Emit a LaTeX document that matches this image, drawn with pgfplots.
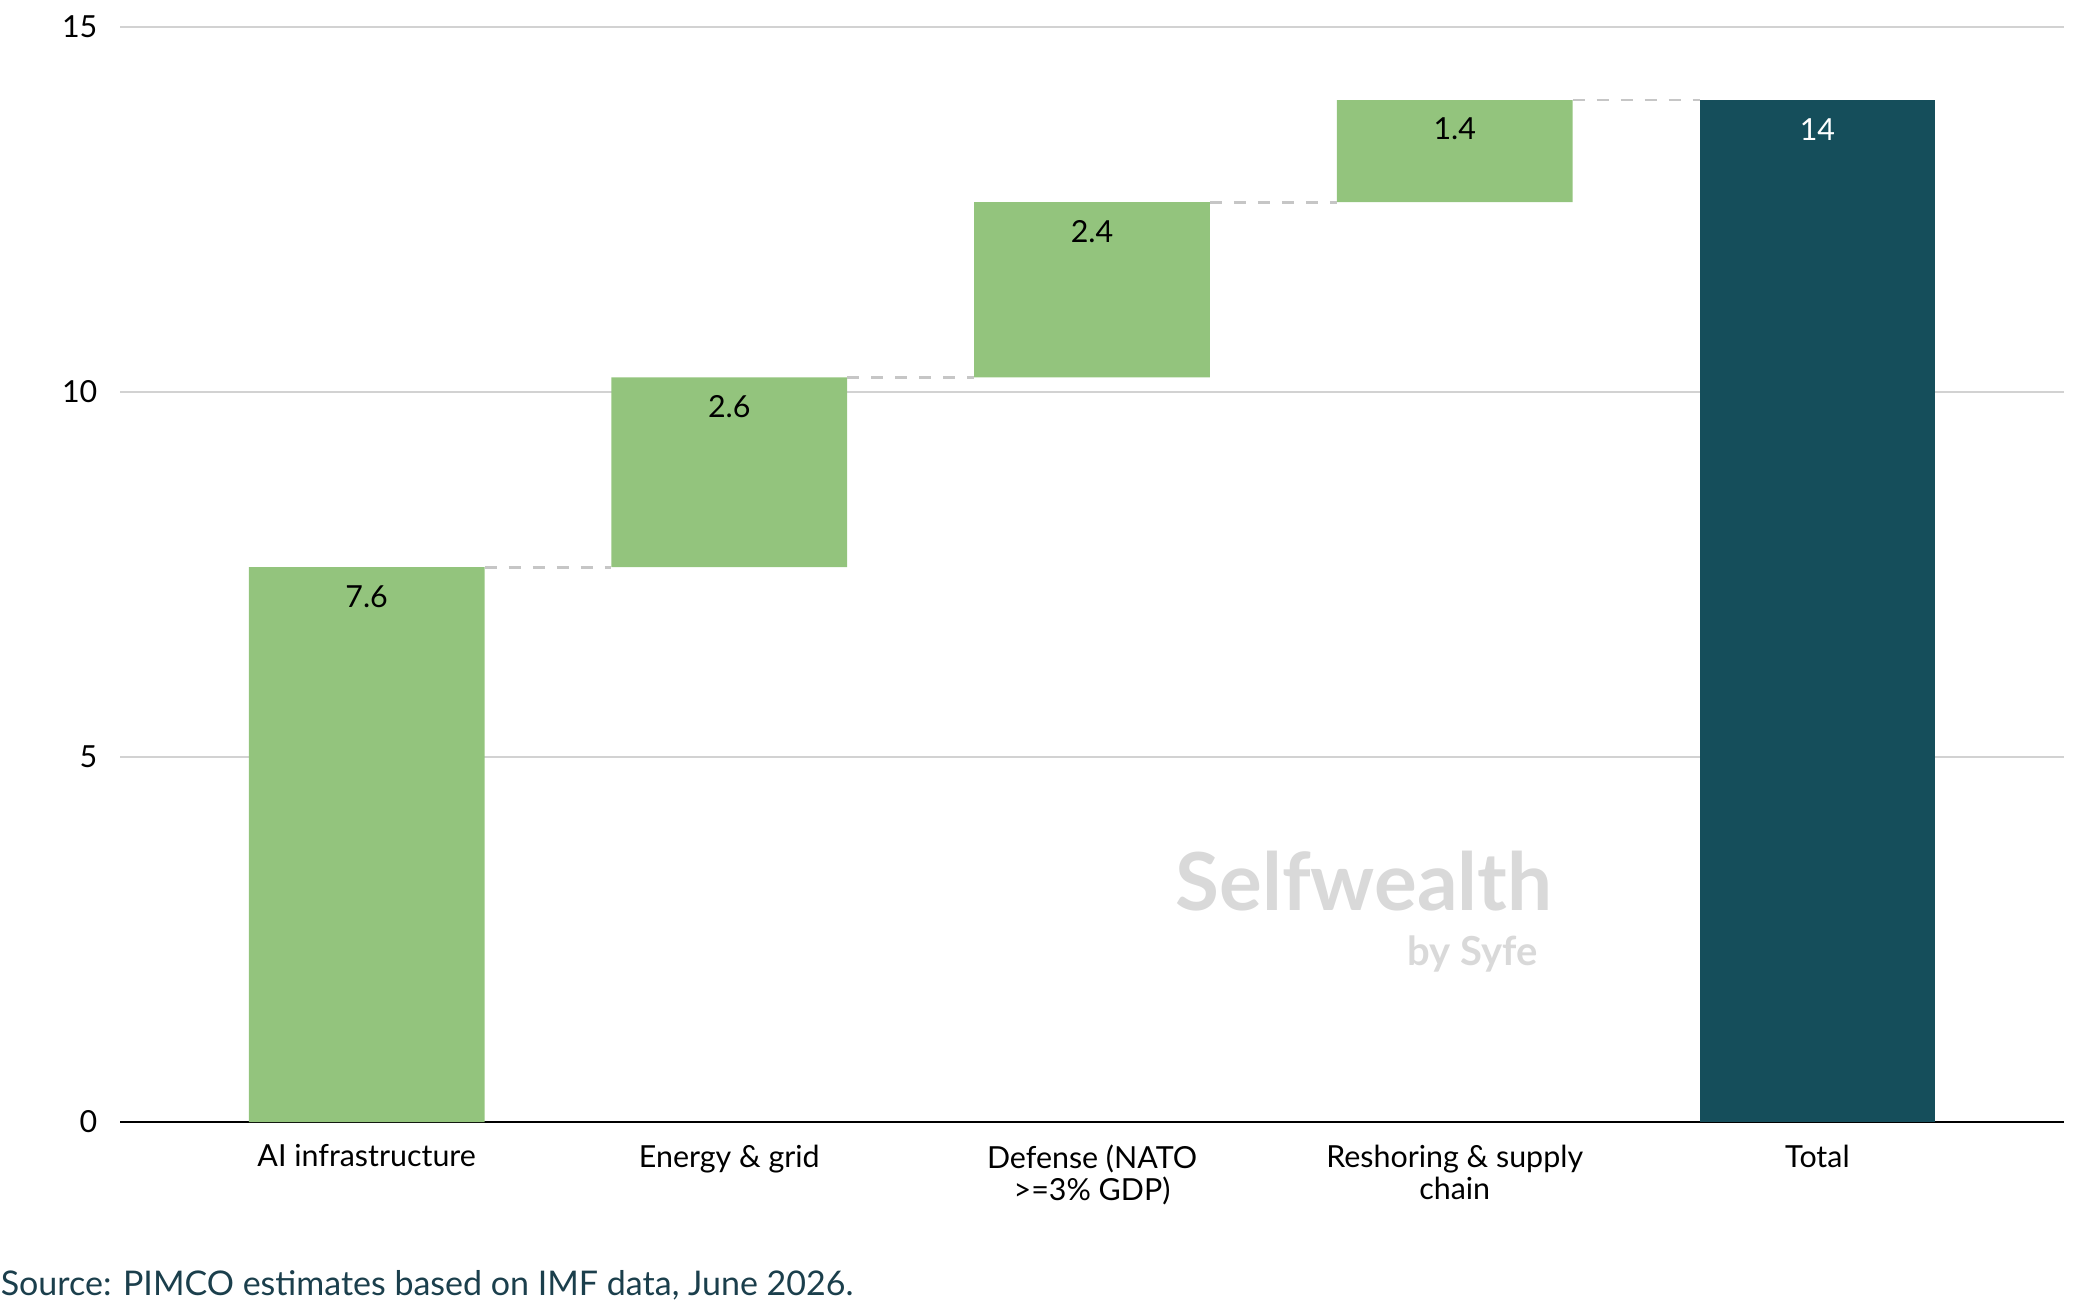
\documentclass[border=0pt]{standalone}
\usepackage{pgfplots}
\pgfplotsset{compat=1.18}
\usepackage{fontspec}
\setmainfont{Lato}
\definecolor{gbar}{HTML}{93C47D}
\definecolor{tbar}{HTML}{154E5B}
\definecolor{src}{HTML}{1B3F4C}
\begin{document}
\begin{tikzpicture}
\path[use as bounding box] (0,0) rectangle (520.75pt,327.25pt);
\begin{axis}[
  at={(30pt,46.75pt)}, anchor=south west, scale only axis,
  width=486pt, height=273.75pt,
  xmin=-0.68, xmax=4.68, ymin=0, ymax=15,
  ybar stacked, bar width=0.65,
  xtick={0,1,2,3,4},
  xticklabels={AI infrastructure, Energy \& grid, {Defense (NATO\\>=3\% GDP)}, {Reshoring \& supply\\chain}, Total},
  xticklabel style={align=center, font=\fontsize{7.6}{6.5}\selectfont},
  ytick={0,5,10,15},
  yticklabel style={font=\fontsize{7.6}{9}\selectfont},
  /pgf/number format/assume math mode=true,
  ymajorgrids, grid style={gray!35, line width=0.6pt},
  axis x line=bottom, axis y line=left,
  y axis line style={draw=none}, x axis line style={black, line width=0.6pt, -},
  tick style={draw=none},
  xtick pos=bottom,
]
\addplot[draw=none, fill=none, forget plot] coordinates {(0,0) (1,7.6) (2,10.2) (3,12.6) (4,0)};
\addplot[fill=gbar, draw=none] coordinates {(0,7.6) (1,2.6) (2,2.4) (3,1.4) (4,0)};
\addplot[fill=tbar, draw=none] coordinates {(0,0) (1,0) (2,0) (3,0) (4,14)};
\end{axis}
\begin{axis}[
  at={(30pt,46.75pt)}, anchor=south west, scale only axis,
  width=486pt, height=273.75pt,
  xmin=-0.68, xmax=4.68, ymin=0, ymax=15, hide axis]
\addplot[gray!45, dashed, line width=0.7pt] coordinates {(0.325,7.6) (0.675,7.6)};
\addplot[gray!45, dashed, line width=0.7pt] coordinates {(1.325,10.2) (1.675,10.2)};
\addplot[gray!45, dashed, line width=0.7pt] coordinates {(2.325,12.6) (2.675,12.6)};
\addplot[gray!45, dashed, line width=0.7pt] coordinates {(3.325,14) (3.675,14)};
\node[font=\fontsize{7.6}{9}\selectfont] at (axis cs:0,7.2) {7.6};
\node[font=\fontsize{7.6}{9}\selectfont] at (axis cs:1,9.8) {2.6};
\node[font=\fontsize{7.6}{9}\selectfont] at (axis cs:2,12.2) {2.4};
\node[font=\fontsize{7.6}{9}\selectfont] at (axis cs:3,13.6) {1.4};
\node[font=\fontsize{7.6}{9}\selectfont, white] at (axis cs:4,13.6) {14};
\node[font=\bfseries\fontsize{20}{20}\selectfont, gray!30] at (axis cs:2.75,3.3) {Selfwealth};
\node[font=\bfseries\fontsize{10}{10}\selectfont, gray!30] at (axis cs:3.05,2.3) {by Syfe};
\end{axis}
\node[anchor=south west, inner sep=0pt, text=src, font=\fontsize{8.5}{10}\selectfont] at (0,2pt) {Source: PIMCO estimates based on IMF data, June 2026.};
\end{tikzpicture}
\end{document}
